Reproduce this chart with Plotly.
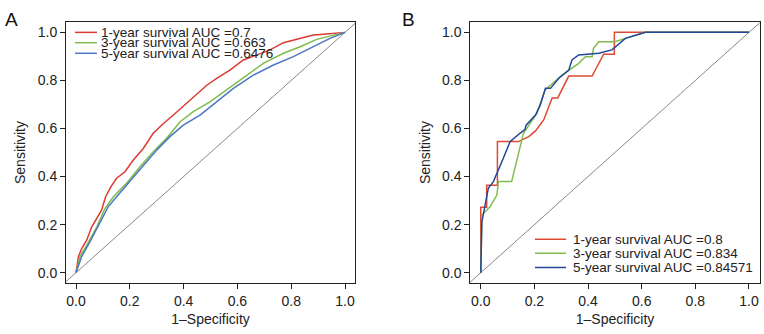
import plotly.graph_objects as go

# ---- Data ----
# Panel A
a1_x = [0, 0.009, 0.021, 0.04, 0.058, 0.077, 0.095, 0.11, 0.13, 0.151, 0.182, 0.213, 0.25, 0.287, 0.325, 0.362, 0.41, 0.449, 0.486, 0.523, 0.572, 0.622, 0.684, 0.721, 0.771, 0.82, 0.882, 0.932, 1.0]
a1_y = [0, 0.067, 0.10, 0.136, 0.19, 0.226, 0.26, 0.316, 0.358, 0.393, 0.42, 0.469, 0.517, 0.58, 0.621, 0.656, 0.705, 0.746, 0.78, 0.809, 0.843, 0.885, 0.913, 0.927, 0.957, 0.971, 0.989, 0.993, 1.0]
a3_x = [0, 0.015, 0.04, 0.077, 0.108, 0.139, 0.188, 0.238, 0.287, 0.337, 0.387, 0.436, 0.498, 0.56, 0.622, 0.696, 0.771, 0.833, 0.895, 0.957, 1.0]
a3_y = [0, 0.067, 0.115, 0.19, 0.268, 0.316, 0.372, 0.441, 0.503, 0.559, 0.628, 0.67, 0.711, 0.76, 0.809, 0.871, 0.913, 0.94, 0.971, 0.989, 1.0]
a5_x = [0, 0.021, 0.052, 0.089, 0.12, 0.151, 0.2, 0.25, 0.3, 0.349, 0.399, 0.461, 0.523, 0.585, 0.659, 0.734, 0.808, 0.882, 0.944, 1.0]
a5_y = [0, 0.067, 0.129, 0.212, 0.275, 0.316, 0.379, 0.441, 0.51, 0.566, 0.614, 0.656, 0.711, 0.767, 0.822, 0.864, 0.899, 0.94, 0.975, 1.0]

# Panel B
b1_x = [0, 0, 0.022, 0.022, 0.062, 0.062, 0.14, 0.179, 0.204, 0.235, 0.266, 0.287, 0.328, 0.415, 0.458, 0.498, 0.498, 1.0]
b1_y = [0, 0.2727, 0.2727, 0.3636, 0.3636, 0.5455, 0.5455, 0.566, 0.59, 0.6364, 0.7273, 0.7273, 0.8182, 0.8182, 0.9091, 0.9091, 1.0, 1.0]
b3_x = [0, 0.004, 0.035, 0.06, 0.066, 0.115, 0.159, 0.209, 0.24, 0.303, 0.365, 0.39, 0.415, 0.42, 0.44, 0.5, 0.539, 0.614, 1.0]
b3_y = [0, 0.24, 0.275, 0.323, 0.379, 0.379, 0.58, 0.663, 0.76, 0.822, 0.871, 0.899, 0.899, 0.933, 0.961, 0.961, 0.975, 1.0, 1.0]
b5_x = [0, 0.004, 0.028, 0.047, 0.084, 0.109, 0.146, 0.165, 0.169, 0.204, 0.222, 0.241, 0.26, 0.291, 0.328, 0.34, 0.365, 0.44, 0.489, 0.539, 0.614, 1.0]
b5_y = [0, 0.21, 0.351, 0.379, 0.476, 0.545, 0.58, 0.597, 0.614, 0.656, 0.698, 0.767, 0.767, 0.809, 0.843, 0.885, 0.906, 0.913, 0.927, 0.975, 1.0, 1.0]

labels_a = ["1-year survival AUC =0.7", "3-year survival AUC =0.663", "5-year survival AUC =0.6476"]
labels_b = ["1-year survival AUC =0.8", "3-year survival AUC =0.834", "5-year survival AUC =0.84571"]
colors_a = ["#dd3a30", "#7dbb4c", "#4a78c0"]
colors_b = ["#de4a34", "#80bd4e", "#22479a"]
ticks = [0.0, 0.2, 0.4, 0.6, 0.8, 1.0]
tick_text = ["0.0", "0.2", "0.4", "0.6", "0.8", "1.0"]

FONT = "Liberation Sans, Arial, Helvetica, sans-serif"
TXT = "#222222"

fig = go.Figure()

def add_panel(xs, ys, cols, xa, ya):
    # diagonal reference line
    fig.add_trace(go.Scatter(x=[-0.1, 1.1], y=[-0.1, 1.1], mode="lines",
                             line=dict(color="#555555", width=0.7),
                             xaxis=xa, yaxis=ya, showlegend=False, hoverinfo="skip"))
    for x, y, c in zip(xs, ys, cols):
        fig.add_trace(go.Scatter(x=x, y=y, mode="lines", line=dict(color=c, width=1.5),
                                 xaxis=xa, yaxis=ya, showlegend=False))

add_panel([a1_x, a3_x, a5_x], [a1_y, a3_y, a5_y], colors_a, "x", "y")
add_panel([b1_x, b3_x, b5_x], [b1_y, b3_y, b5_y], colors_b, "x2", "y2")

axis_common = dict(showline=True, mirror=True, linecolor=TXT, linewidth=1,
                   ticks="outside", ticklen=5, tickcolor=TXT, tickwidth=1,
                   showgrid=False, zeroline=False, tickvals=ticks, ticktext=tick_text,
                   automargin=False,
                   tickfont=dict(family=FONT, size=14, color=TXT))

xtitle = dict(text="1\u2013Specificity", font=dict(family=FONT, size=14, color=TXT), standoff=6)
ytitle = dict(text="Sensitivity", font=dict(family=FONT, size=14, color=TXT), standoff=8)

ydom = [0.1527, 0.934]
fig.update_layout(
    width=764, height=334, margin=dict(l=0, r=0, t=0, b=0, autoexpand=False),
    paper_bgcolor="white", plot_bgcolor="white", showlegend=False,
    xaxis=dict(domain=[0.0864, 0.4647], range=[-0.0372, 1.0372], anchor="y",
               title=xtitle, **axis_common),
    yaxis=dict(domain=ydom, range=[-0.043, 1.043], anchor="x",
               title=ytitle, **axis_common),
    xaxis2=dict(domain=[0.6156, 0.9944], range=[-0.039, 1.040], anchor="y2",
                title=xtitle, **axis_common),
    yaxis2=dict(domain=ydom, range=[-0.043, 1.043], anchor="x2",
                title=ytitle, **axis_common),
)

# Legends (drawn manually, R style)
leg_a_y = [1.0, 0.957, 0.913]
for lab, c, yy in zip(labels_a, colors_a, leg_a_y):
    fig.add_shape(type="line", xref="x", yref="y", x0=-0.004, x1=0.078, y0=yy, y1=yy,
                  line=dict(color=c, width=1.5))
    fig.add_annotation(xref="x", yref="y", x=0.085, y=yy, text=lab, showarrow=False,
                       xanchor="left", yanchor="middle",
                       font=dict(family=FONT, size=13.5, color=TXT))

leg_b_y = [0.139, 0.081, 0.022]
for lab, c, yy in zip(labels_b, colors_b, leg_b_y):
    fig.add_shape(type="line", xref="x2", yref="y2", x0=0.202, x1=0.318, y0=yy, y1=yy,
                  line=dict(color=c, width=1.5))
    fig.add_annotation(xref="x2", yref="y2", x=0.336, y=yy, text=lab, showarrow=False,
                       xanchor="left", yanchor="middle",
                       font=dict(family=FONT, size=13.5, color=TXT))

# Panel letters
fig.add_annotation(xref="paper", yref="paper", x=3 / 764, y=1 - 19.5 / 334, text="A",
                   showarrow=False, xanchor="left", yanchor="middle",
                   font=dict(family=FONT, size=19, color="#111111"))
fig.add_annotation(xref="paper", yref="paper", x=400 / 764, y=1 - 19.5 / 334, text="B",
                   showarrow=False, xanchor="left", yanchor="middle",
                   font=dict(family=FONT, size=19, color="#111111"))

fig.write_html("out.html", config={"displayModeBar": False},
               post_script="document.body.style.margin='0px';")
